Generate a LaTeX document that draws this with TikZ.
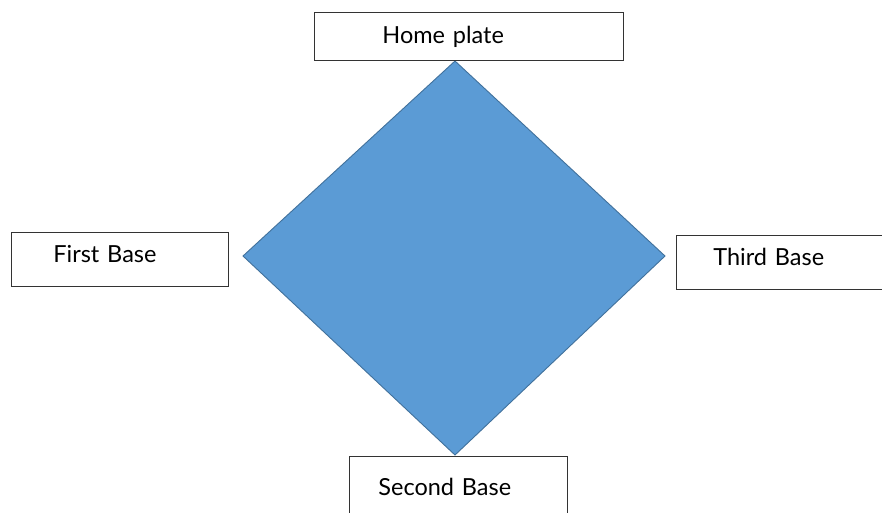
\documentclass[tikz,border=0pt]{standalone}
\usepackage{fontspec}
\setmainfont{Lato}
\definecolor{fieldblue}{HTML}{5B9BD5}
\definecolor{fieldedge}{HTML}{41719C}
\tikzset{
  basebox/.style={draw=black!80,line width=0.8,fill=white,rectangle,align=left,
    font=\fontsize{23.5}{27}\selectfont,inner ysep=0pt,anchor=north west,text height=17pt}
}
\begin{document}
\begin{tikzpicture}[x=1pt,y=-1pt]
			\clip (0,0) rectangle (882,512);
			\fill[white] (0,0) rectangle (882,512);
			\coordinate (T) at (455,61);
			\coordinate (L) at (243,256);
			\coordinate (R) at (665,256);
			\coordinate (B) at (455,455);
			\filldraw[fill=fieldblue,draw=fieldedge,line width=0.9] (T) -- (R) -- (B) -- (L) -- cycle;
			\node[basebox,inner xsep=68pt,text width=173pt,minimum height=48pt,text depth=3pt] (home) at (314,12) {Home plate};
			\node[basebox,inner xsep=42pt,text width=133pt,minimum height=54pt,text depth=11pt] (first) at (11,232) {First Base};
			\node[basebox,inner xsep=37pt,text width=140pt,minimum height=54pt,text depth=11pt] (third) at (676,235) {Third Base};
			\node[basebox,inner xsep=29pt,text width=160pt,minimum height=70pt,text depth=9pt] (second) at (349,456) {Second Base};
		\end{tikzpicture}
\end{document}
